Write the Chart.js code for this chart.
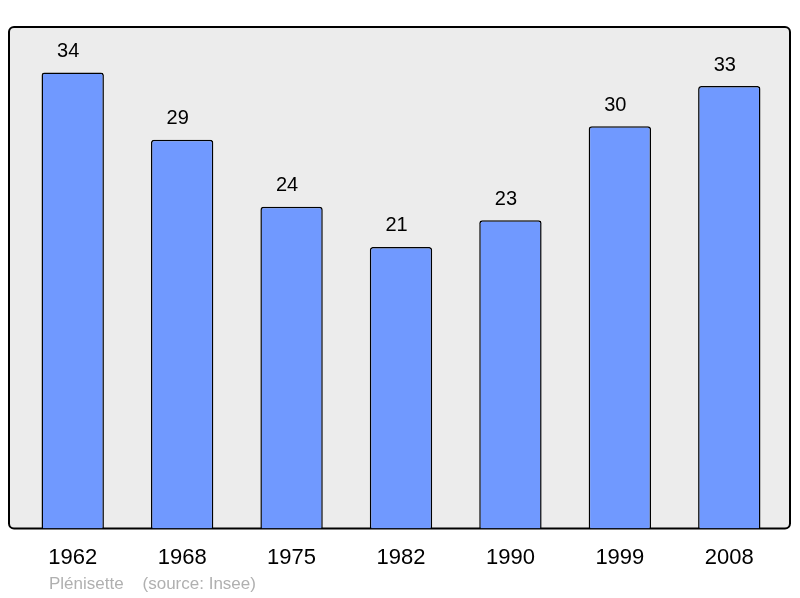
<!DOCTYPE html>
<html>
<head>
<meta charset="utf-8">
<script src="https://cdn.jsdelivr.net/npm/chart.js@4"></script>
<style>
  html, body { margin: 0; padding: 0; background: #fff; }
  #wrap { width: 800px; height: 598px; }
</style>
</head>
<body>
<div id="wrap"><canvas id="popChart" width="800" height="598"></canvas></div>
<script>
// Data
const years = ["1962", "1968", "1975", "1982", "1990", "1999", "2008"];
const population = [34, 29, 24, 21, 23, 30, 33];
const footerText = "Plénisette    (source: Insee)";

// Grey rounded frame behind the bars
const framePlugin = {
  id: "frame",
  beforeDraw(chart) {
    const { ctx, chartArea } = chart;
    const x = chartArea.left - 9, y = chartArea.top;
    const w = chartArea.right + 6 - x, h = chartArea.bottom - y;
    ctx.save();
    ctx.beginPath();
    ctx.roundRect(x, y, w, h, 5);
    ctx.fillStyle = "#ececec";
    ctx.fill();
    ctx.lineWidth = 2;
    ctx.strokeStyle = "#000";
    ctx.stroke();
    ctx.restore();
  }
};

// Values above bars + footer note
const labelPlugin = {
  id: "labels",
  afterDatasetsDraw(chart) {
    const { ctx } = chart;
    const meta = chart.getDatasetMeta(0);
    ctx.save();
    ctx.font = "20px 'Liberation Sans', Arial, sans-serif";
    ctx.fillStyle = "#000";
    ctx.textAlign = "center";
    ctx.textBaseline = "middle";
    meta.data.forEach((bar, i) => {
      ctx.fillText(population[i], bar.x - 4.5, bar.y - 21);
    });
    ctx.font = "17px 'Liberation Sans', Arial, sans-serif";
    ctx.fillStyle = "#b0b0b0";
    ctx.textAlign = "left";
    ctx.fillText(footerText, 49, 584);
    ctx.restore();
  }
};

const ctx = document.getElementById("popChart").getContext("2d");

new Chart(ctx, {
  type: "bar",
  data: {
    labels: years,
    datasets: [{
      data: population,
      backgroundColor: "#7099ff",
      borderColor: "#000",
      borderWidth: 1.5,
      borderRadius: 3,
      borderSkipped: "bottom",
      categoryPercentage: 1,
      barPercentage: 0.57
    }]
  },
  options: {
    responsive: false,
    animation: false,
    layout: { padding: { left: 18, right: 16, top: 27, bottom: 19 } },
    plugins: {
      legend: { display: false },
      tooltip: { enabled: false }
    },
    scales: {
      x: {
        grid: { display: false },
        border: { display: false },
        ticks: {
          color: "#000",
          padding: 8,
          font: { size: 22, family: "'Liberation Sans', Arial, sans-serif" }
        }
      },
      y: {
        display: false,
        min: 0,
        max: 37.4
      }
    }
  },
  plugins: [framePlugin, labelPlugin]
});
</script>
</body>
</html>
